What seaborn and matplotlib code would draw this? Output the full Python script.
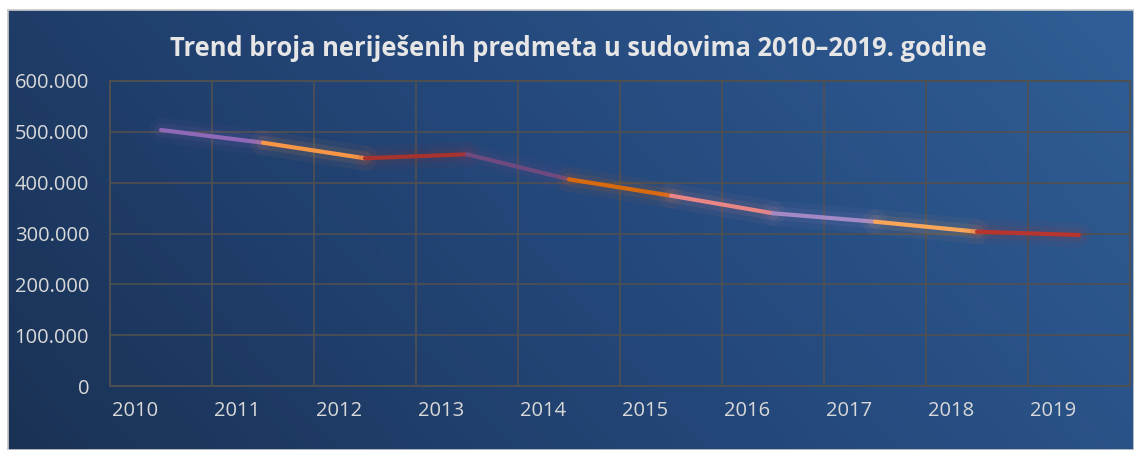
import numpy as np
import pandas as pd

import matplotlib
matplotlib.use('Agg')
import matplotlib.pyplot as plt
import matplotlib.transforms as mtransforms
import matplotlib.patheffects as pe
from matplotlib.colors import LinearSegmentedColormap
import seaborn as sns

# chart data
years = ['2010', '2011', '2012', '2013', '2014', '2015', '2016', '2017', '2018', '2019']
cases = [503600, 478600, 448000, 455800, 406600, 374400, 339800, 323200, 303600, 297000]
segment_colors = ['#8f69b8', '#f79646', '#a8322d', '#6e4a80', '#d7690f',
                  '#e98585', '#a38ac6', '#f9a65a', '#b8352f']
y_ticks = [0, 100000, 200000, 300000, 400000, 500000, 600000]
title = 'Trend broja neriješenih predmeta u sudovima 2010–2019. godine'

# one row per segment end point so every segment gets its own colour
rows = []
for i in range(len(years) - 1):
    rows.append({'pos': i, 'value': cases[i], 'seg': i})
    rows.append({'pos': i + 1, 'value': cases[i + 1], 'seg': i})
df = pd.DataFrame(rows)

sns.set_theme(style='dark')
plt.rcParams['font.family'] = ['Open Sans', 'DejaVu Sans']

W, H = 1134, 450
fig = plt.figure(figsize=(W / 100, H / 100), dpi=100)
fig.patch.set_facecolor('white')

# gradient panel behind the chart
bg = fig.add_axes([8 / W, 0, 1 - 8 / W, (H - 10) / H])
cmap = LinearSegmentedColormap.from_list('panel', ['#1a3255', '#24477a', '#2f5e96'])
gx, gy = np.meshgrid(np.linspace(0, 1, 300), np.linspace(0, 1, 120))
bg.imshow(0.75 * gx + 0.25 * (1 - gy), cmap=cmap, aspect='auto', extent=[0, 1, 0, 1],
          origin='upper', vmin=0, vmax=1)
bg.set_xticks([])
bg.set_yticks([])
for s in bg.spines.values():
    s.set_visible(True)
    s.set_color('#c8c8c8')

ax = fig.add_axes([110 / W, (H - 386) / H, (1130 - 110) / W, (386 - 81) / H])
ax.set_facecolor('none')

sns.lineplot(data=df, x='pos', y='value', hue='seg', palette=segment_colors,
             linewidth=3, legend=False, ax=ax, solid_capstyle='round')
for line in ax.get_lines():
    line.set_path_effects([pe.Stroke(linewidth=18, foreground=line.get_color(), alpha=0.06),
                           pe.Stroke(linewidth=10, foreground=line.get_color(), alpha=0.10),
                           pe.Normal()])

ax.set_xlim(-0.5, len(years) - 0.5)
ax.set_ylim(0, 600000)
ax.set_xticks(np.arange(len(years)) - 0.5)
ax.set_xticklabels(years)
ax.set_yticks(y_ticks)
ax.set_yticklabels([f'{v:,}'.replace(',', '.') for v in y_ticks])

grid_col = '#505050'
ax.grid(True, color=grid_col, lw=1.2)
for s in ax.spines.values():
    s.set_visible(True)
    s.set_color(grid_col)
    s.set_linewidth(1.3)

ax.tick_params(axis='both', length=0, labelsize=14.5, labelcolor='#d9d9d9')
ax.tick_params(axis='x', pad=11)
ax.tick_params(axis='y', pad=15)
shift = mtransforms.ScaledTranslation(2 / 100, 0, fig.dpi_scale_trans)
for lbl in ax.get_xticklabels():
    lbl.set_horizontalalignment('left')
    lbl.set_transform(lbl.get_transform() + shift)
ax.set_xlabel('')
ax.set_ylabel('')

fig.text(578 / W, 1 - 48 / H, title, ha='center', va='center', fontsize=18.4,
         fontweight='bold', color='#e6e6e6')

fig.savefig('out.png', dpi=100)
